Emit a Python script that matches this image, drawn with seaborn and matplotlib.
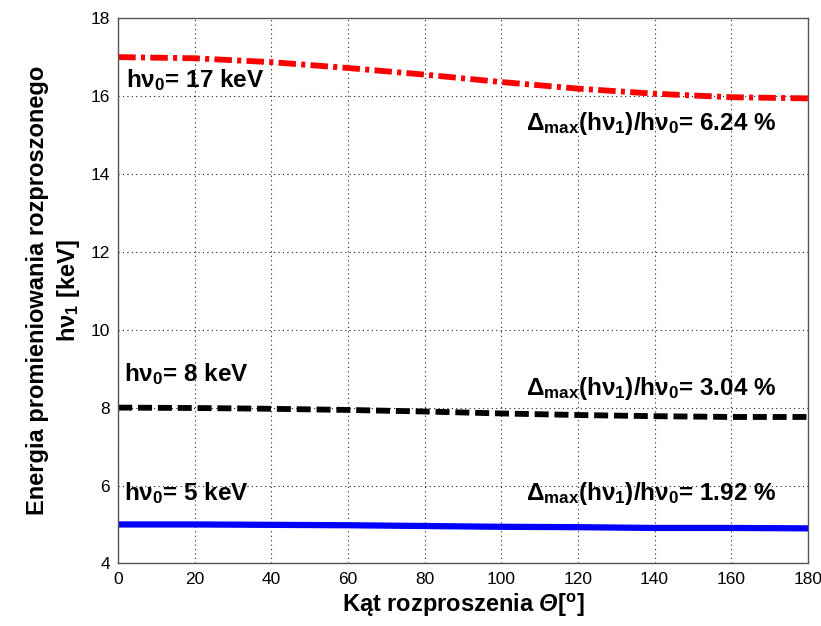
import matplotlib
matplotlib.use('Agg')
import matplotlib.pyplot as plt
import seaborn as sns
import pandas as pd

# angle [deg] and scattered photon energy [keV]
theta = [0, 20, 40, 60, 80, 100, 120, 140, 160, 180]
e17 = [17.00, 16.97, 16.87, 16.72, 16.55, 16.36, 16.19, 16.06, 15.97, 15.94]
e8 = [8.00, 7.99, 7.97, 7.94, 7.90, 7.85, 7.81, 7.78, 7.76, 7.76]
e5 = [5.00, 5.00, 4.99, 4.98, 4.96, 4.94, 4.93, 4.91, 4.91, 4.90]
labels_e0 = ['17', '8', '5']
delta_max = ['6.24', '3.04', '1.92']

sns.set_style('white')
plt.rcParams['font.family'] = ['Liberation Sans', 'DejaVu Sans']
plt.rcParams['mathtext.fontset'] = 'custom'
plt.rcParams['mathtext.rm'] = 'Liberation Sans:bold'
plt.rcParams['mathtext.bf'] = 'Liberation Sans:bold'
plt.rcParams['mathtext.it'] = 'Liberation Sans:bold:italic'
plt.rcParams['mathtext.cal'] = 'Liberation Sans:bold:italic'
plt.rcParams['mathtext.default'] = 'rm'
for k in ['text.color', 'axes.labelcolor', 'xtick.labelcolor', 'ytick.labelcolor']:
    plt.rcParams[k] = 'black'

df = pd.DataFrame({'theta': theta, 'e17': e17, 'e8': e8, 'e5': e5})

fig = plt.figure(figsize=(8.21, 6.26), dpi=100)
ax = fig.add_axes([0.144, 0.100, 0.840, 0.871])

sns.lineplot(data=df, x='theta', y='e17', ax=ax, color='#ff0000', lw=4.2,
             linestyle=(0, (3.0, 0.9, 0.7, 0.9)))
sns.lineplot(data=df, x='theta', y='e8', ax=ax, color='black', lw=4.2,
             linestyle=(0, (2.4, 1.0)))
sns.lineplot(data=df, x='theta', y='e5', ax=ax, color='#0000ff', lw=4.5)

ax.set_xlim(0, 180)
ax.set_ylim(4, 18)
ax.set_xticks(range(0, 181, 20))
ax.set_yticks(range(4, 19, 2))
ax.grid(True, linestyle=(0, (1, 3)), color='#222222', lw=0.8)
ax.tick_params(direction='in', length=5, labelsize=12.5, color='#555555', pad=6)
for s in ax.spines.values():
    s.set_color('#555555')
    s.set_linewidth(1.0)

ax.set_xlabel(r'Kąt rozproszenia $\mathcal{\Theta}$[$^o$]', fontsize=17, fontweight='bold', labelpad=4)
ax.set_ylabel('Energia promieniowania rozproszonego\nhν$_1$ [keV]', fontsize=17,
              fontweight='bold', labelpad=6, linespacing=1.3)

tk = dict(fontsize=17.5, fontweight='bold', va='center')
ax.text(2.0, 16.4, 'hν$_0$= ' + labels_e0[0] + ' keV', **tk)
ax.text(1.5, 8.85, 'hν$_0$= ' + labels_e0[1] + ' keV', **tk)
ax.text(1.5, 5.8, 'hν$_0$= ' + labels_e0[2] + ' keV', **tk)
ax.text(106.5, 15.3, 'Δ$_{max}$(hν$_1$)/hν$_0$= ' + delta_max[0] + ' %', **tk)
ax.text(106.5, 8.5, 'Δ$_{max}$(hν$_1$)/hν$_0$= ' + delta_max[1] + ' %', **tk)
ax.text(106.5, 5.8, 'Δ$_{max}$(hν$_1$)/hν$_0$= ' + delta_max[2] + ' %', **tk)

fig.savefig('out.png', dpi=100)
